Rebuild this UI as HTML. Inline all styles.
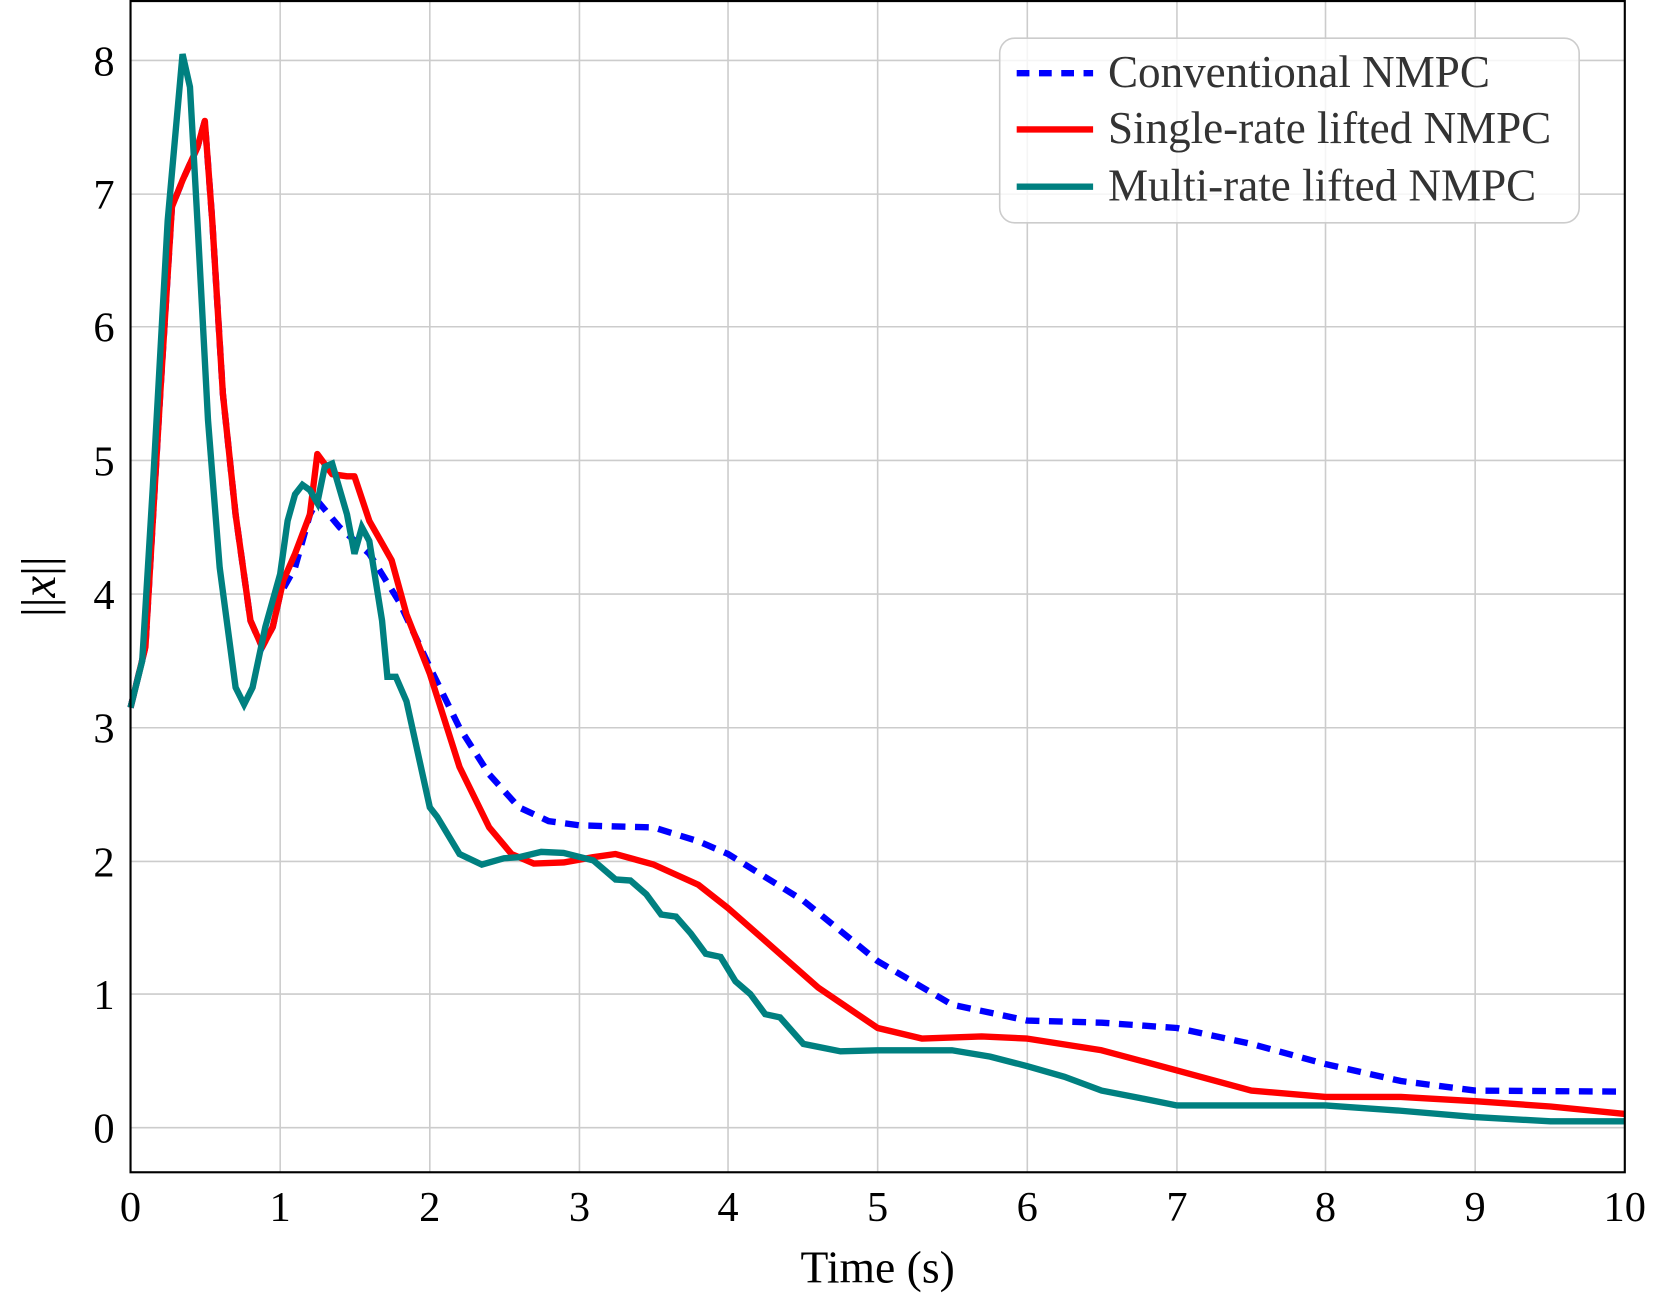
<!DOCTYPE html>
<html><head><meta charset="utf-8"><style>html,body{margin:0;padding:0;background:#fff}svg{display:block}</style></head>
<body>
<svg width="1663" height="1307" viewBox="0 0 1567 1232" preserveAspectRatio="none" xmlns="http://www.w3.org/2000/svg" font-family="Liberation Serif, serif">
<g stroke="#cccccc" stroke-width="1.5">
<line x1="264" y1="1" x2="264" y2="1105"/><line x1="405" y1="1" x2="405" y2="1105"/><line x1="546" y1="1" x2="546" y2="1105"/><line x1="686" y1="1" x2="686" y2="1105"/><line x1="827" y1="1" x2="827" y2="1105"/><line x1="968" y1="1" x2="968" y2="1105"/><line x1="1109" y1="1" x2="1109" y2="1105"/><line x1="1249" y1="1" x2="1249" y2="1105"/><line x1="1390" y1="1" x2="1390" y2="1105"/>
<line x1="123" y1="1063" x2="1531" y2="1063"/><line x1="123" y1="937" x2="1531" y2="937"/><line x1="123" y1="812" x2="1531" y2="812"/><line x1="123" y1="686" x2="1531" y2="686"/><line x1="123" y1="560" x2="1531" y2="560"/><line x1="123" y1="434" x2="1531" y2="434"/><line x1="123" y1="308" x2="1531" y2="308"/><line x1="123" y1="183" x2="1531" y2="183"/><line x1="123" y1="57" x2="1531" y2="57"/>
</g>
<polyline fill="none" stroke="#0000ff" stroke-width="6" stroke-dasharray="13,9" points="123,667 137,610 151,371 162,195 172,170 186,139 193,114 200,208 210,371 222,485 236,585 247,610 257,591 264,560 278,535 292,485 299,472 320,497 348,522 376,567 405,629 433,686 461,730 489,761 517,774 546,778 616,780 658,793 686,805 757,849 827,906 897,947 968,962 1038,964 1109,969 1179,984 1249,1003 1320,1019 1390,1028 1531,1029"/>
<polyline fill="none" stroke="#ff0000" stroke-width="6" stroke-linejoin="round" points="123,667 137,610 151,371 162,195 172,170 186,139 193,114 200,208 210,371 222,485 236,585 247,610 257,591 267,547 278,522 292,485 299,428 313,447 327,449 334,449 348,491 369,528 383,579 405,635 433,723 461,780 482,805 503,814 531,813 559,808 580,805 616,815 658,834 686,856 728,893 771,931 827,969 869,979 925,977 968,979 1038,990 1109,1009 1179,1028 1249,1034 1320,1034 1390,1038 1461,1043 1531,1050"/>
<polyline fill="none" stroke="#008080" stroke-width="6" stroke-linejoin="miter" points="123,667 134,623 144,459 158,208 172,51 179,82 186,208 196,396 207,535 222,648 230,664 238,648 250,591 264,541 271,491 278,466 285,457 292,462 299,474 306,440 313,437 327,485 334,522 341,497 348,510 360,585 365,638 373,638 383,661 405,761 412,770 433,805 454,815 475,809 489,808 510,803 531,804 559,811 580,829 594,830 609,843 623,862 637,864 651,880 665,899 679,902 693,925 707,937 721,956 735,959 757,984 792,991 827,990 897,990 933,996 968,1005 1003,1015 1038,1028 1074,1035 1109,1042 1179,1042 1249,1042 1320,1047 1390,1053 1461,1057 1531,1057"/>
<rect x="123" y="1" width="1408" height="1104" fill="none" stroke="#000" stroke-width="2"/>
<rect x="942" y="36" width="546" height="174" rx="14" fill="#fff" fill-opacity="0.8" stroke="#cccccc" stroke-width="1.5"/>
<line x1="958" y1="69" x2="1030" y2="69" stroke="#0000ff" stroke-width="6" stroke-dasharray="12,9"/>
<line x1="958" y1="122" x2="1030" y2="122" stroke="#ff0000" stroke-width="6"/>
<line x1="958" y1="176" x2="1030" y2="176" stroke="#008080" stroke-width="6"/>
<g font-size="42.5" fill="#333">
<text x="1044" y="82">Conventional NMPC</text>
<text x="1044" y="135">Single-rate lifted NMPC</text>
<text x="1044" y="189">Multi-rate lifted NMPC</text>
</g>
<g font-size="40" fill="#000" text-anchor="end">
<text x="108" y="1077">0</text><text x="108" y="951">1</text><text x="108" y="826">2</text><text x="108" y="700">3</text><text x="108" y="574">4</text><text x="108" y="448">5</text><text x="108" y="322">6</text><text x="108" y="197">7</text><text x="108" y="71">8</text>
</g>
<g font-size="40" fill="#000" text-anchor="middle">
<text x="123" y="1151">0</text><text x="264" y="1151">1</text><text x="405" y="1151">2</text><text x="546" y="1151">3</text><text x="686" y="1151">4</text><text x="827" y="1151">5</text><text x="968" y="1151">6</text><text x="1109" y="1151">7</text><text x="1249" y="1151">8</text><text x="1390" y="1151">9</text><text x="1531" y="1151">10</text>
</g>
<g font-size="43" fill="#000" text-anchor="middle">
<text x="827" y="1209">Time (s)</text>
<text transform="translate(52,553) rotate(-90)" font-size="46">||<tspan font-style="italic">x</tspan>||</text>
</g>
</svg>
</body></html>
